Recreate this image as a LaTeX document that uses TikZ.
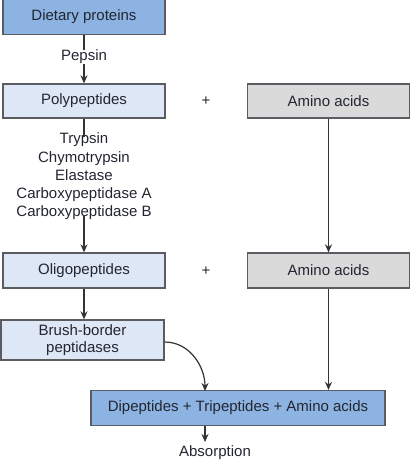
\documentclass[tikz,border=0pt]{standalone}
\usepackage{fontspec}
\setmainfont{Liberation Sans}
\usetikzlibrary{arrows.meta}
\definecolor{darkblue}{RGB}{141,179,226}
\definecolor{lightblue}{RGB}{221,231,246}
\definecolor{boxgray}{RGB}{218,218,218}
\definecolor{edgec}{RGB}{90,92,98}
\definecolor{txt}{RGB}{35,38,48}
\begin{document}
\begin{tikzpicture}[x=1pt,y=-1pt,
  every node/.style={font=\fontsize{15}{18}\selectfont, text=txt},
  box/.style={draw=edgec, line width=1.3pt, minimum height=35pt, inner sep=0pt, anchor=center},
  arr/.style={-{Stealth[length=8pt,width=7pt]}, line width=1.2pt, draw=black!80},
  ln/.style={line width=1.2pt, draw=black!80},
  lbl/.style={inner sep=0pt, align=center}]
\useasboundingbox (0,0) rectangle (411,462);
\node[box, fill=darkblue, minimum width=162pt] (dp) at (84,17) {Dietary proteins};
\node[box, fill=lightblue, minimum width=162pt, minimum height=34pt] (pp) at (84,101) {Polypeptides};
\node[box, fill=boxgray, minimum width=162pt, minimum height=34pt] (aa1) at (328.5,101) {Amino acids};
\node[lbl] (plus1) at (206,101) {+};
\node[box, fill=lightblue, minimum width=162pt] (op) at (84,270.5) {Oligopeptides};
\node[box, fill=boxgray, minimum width=162pt] (aa2) at (328.5,270.5) {Amino acids};
\node[lbl] (plus2) at (206,271) {+};
\node[box, fill=lightblue, minimum width=163pt, minimum height=40pt, align=center, font=\fontsize{15}{17}\selectfont] (bb) at (82.5,340) {Brush-border\\peptidases};
\node[box, fill=darkblue, minimum width=294pt] (dt) at (238,408) {Dipeptides + Tripeptides + Amino acids};
\node[lbl] (pep) at (84,57) {Pepsin};
\node[lbl, font=\fontsize{15}{18.2}\selectfont] (enz) at (84,176.5) {Trypsin\\Chymotrypsin\\Elastase\\Carboxypeptidase A\\Carboxypeptidase B};
\node[lbl] (abs) at (215,453) {Absorption};
\coordinate (absTop) at (205,442);
\coordinate (brIn) at (205,391);
\draw[ln] (dp.south) -- (pep.north);
\draw[arr] (pep.south) -- (pp.north);
\draw[ln] (pp.south) -- ([yshift=-4pt]enz.north);
\draw[arr] ([yshift=4pt]enz.south) -- (op.north);
\draw[arr] (aa1.south) -- (aa2.north);
\draw[arr] (op.south) -- (op.south |- bb.north);
\draw[arr] (aa2.south) -- (aa2.south |- dt.north);
\draw[arr] ([yshift=-2pt]bb.east) to[out=0,in=90] (brIn);
\draw[arr] (absTop |- dt.south) -- (absTop);
\end{tikzpicture}
\end{document}
